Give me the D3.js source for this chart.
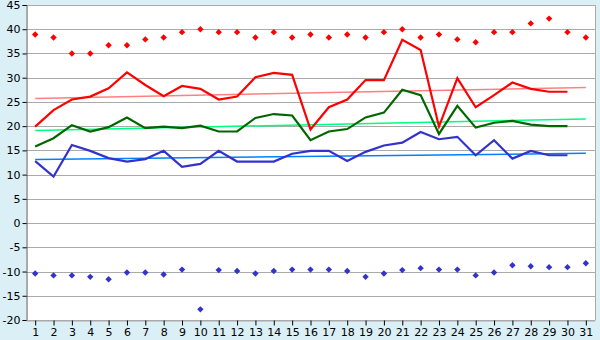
<!DOCTYPE html>
<html>
<head>
<meta charset="utf-8">
<script src="https://cdn.jsdelivr.net/npm/d3@7"></script>
<style>
body { margin: 0; background: #daeff6; }
svg { display: block; }
.tick text { font-family: "DejaVu Sans", sans-serif; font-size: 11px; fill: #000; }
</style>
</head>
<body>
<script>
// day of month
var days = d3.range(1, 32);

// daily values (day 31 has no reading yet)
var maxTemp = [19.9, 23.3, 25.5, 26.1, 27.8, 31.1, 28.5, 26.2, 28.3, 27.7,
	25.5, 26.1, 30.1, 31.0, 30.6, 19.3, 23.9, 25.5, 29.5, 29.5,
	37.8, 35.7, 19.9, 29.9, 23.9, 26.4, 29.0, 27.7, 27.1, 27.1];
var meanTemp = [15.8, 17.5, 20.2, 18.9, 19.8, 21.8, 19.6, 19.9, 19.6, 20.1,
	18.9, 18.9, 21.7, 22.5, 22.2, 17.1, 18.9, 19.4, 21.8, 22.8,
	27.5, 26.4, 18.4, 24.2, 19.7, 20.7, 21.1, 20.3, 20.0, 20.0];
var minTemp = [12.8, 9.6, 16.1, 14.9, 13.4, 12.7, 13.2, 14.9, 11.6, 12.2,
	14.9, 12.7, 12.7, 12.7, 14.3, 14.9, 14.9, 12.8, 14.7, 16.0,
	16.6, 18.8, 17.3, 17.8, 14.0, 17.1, 13.3, 14.9, 14.0, 14.0];

// record values for each day
var recordHigh = [38.9, 38.3, 35.0, 35.0, 36.7, 36.7, 37.9, 38.3, 39.4, 40.0,
	39.4, 39.4, 38.3, 39.4, 38.3, 38.9, 38.3, 38.9, 38.3, 39.4,
	40.0, 38.3, 38.9, 37.9, 37.3, 39.4, 39.4, 41.2, 42.2, 39.4, 38.3];
var recordLow = [-10.4, -10.8, -10.8, -11.1, -11.6, -10.2, -10.2, -10.6, -9.6, -17.8,
	-9.7, -9.9, -10.4, -9.9, -9.6, -9.6, -9.6, -9.9, -11.1, -10.4,
	-9.7, -9.3, -9.6, -9.6, -10.8, -10.2, -8.7, -8.9, -9.1, -9.1, -8.3];

// trend lines, value at day 1 and day 31
var trendMax = [25.7, 28.0];
var trendMean = [19.1, 21.5];
var trendMin = [13.1, 14.4];

var yTicks = d3.range(-20, 46, 5);

var width = 600, height = 340;
var margin = {top: 5, right: 5, bottom: 20, left: 26};
var w = width - margin.left - margin.right;
var h = height - margin.top - margin.bottom;

var svg = d3.select("body").append("svg")
	.attr("width", width)
	.attr("height", height);

var g = svg.append("g")
	.attr("transform", "translate(" + margin.left + "," + margin.top + ")");

var x = d3.scalePoint()
	.domain(days)
	.range([0, w])
	.padding(0.5);

var y = d3.scaleLinear()
	.domain([-20, 45])
	.range([h, 0]);

g.append("rect")
	.attr("width", w)
	.attr("height", h)
	.attr("fill", "#fff");

// grid
g.selectAll(".grid")
	.data(yTicks)
	.enter().append("line")
	.attr("x1", 0)
	.attr("x2", w)
	.attr("y1", (d) => { return Math.round(y(d)) + 0.5; })
	.attr("y2", (d) => { return Math.round(y(d)) + 0.5; })
	.attr("stroke", "#aaa");

g.append("line")
	.attr("x1", w + 0.5).attr("x2", w + 0.5)
	.attr("y1", 0).attr("y2", h)
	.attr("stroke", "#aaa");

// plain hyphen for negatives, like the original
var leftAxis = d3.axisLeft(y).tickValues(yTicks).tickSize(4).tickPadding(2)
	.tickFormat((d) => { return String(d); });
g.append("g")
	.attr("transform", "translate(0.5,0)")
	.call(leftAxis)
	.call((a) => { a.select(".domain").attr("stroke", "#555"); });

var bottomAxis = d3.axisBottom(x).tickSize(5).tickPadding(3).tickSizeOuter(0);
g.append("g")
	.attr("transform", "translate(0," + (h + 0.5) + ")")
	.call(bottomAxis)
	.call((a) => { a.select(".domain").attr("stroke", "#aaa"); });

// trend lines
var trends = [
	{v: trendMax, c: "#ff8080"},
	{v: trendMean, c: "#00ff80"},
	{v: trendMin, c: "#0080ff"}
];
g.selectAll(".trend")
	.data(trends)
	.enter().append("line")
	.attr("x1", x(days[0]))
	.attr("x2", x(days[days.length - 1]))
	.attr("y1", (d) => { return y(d.v[0]); })
	.attr("y2", (d) => { return y(d.v[1]); })
	.attr("stroke", (d) => { return d.c; })
	.attr("stroke-width", 1.5);

// daily lines
var line = d3.line()
	.x((d, i) => { return x(days[i]); })
	.y((d) => { return y(d); });

var series = [
	{v: minTemp, c: "#3333cc"},
	{v: meanTemp, c: "#006600"},
	{v: maxTemp, c: "#ff0000"}
];
g.selectAll(".series")
	.data(series)
	.enter().append("path")
	.attr("d", (d) => { return line(d.v); })
	.attr("fill", "none")
	.attr("stroke", (d) => { return d.c; })
	.attr("stroke-width", 2.2);

// record markers
var diamond = d3.symbol().type(d3.symbolDiamond2).size(26);
g.selectAll(".hi")
	.data(recordHigh)
	.enter().append("path")
	.attr("d", diamond)
	.attr("transform", (d, i) => { return "translate(" + x(days[i]) + "," + y(d) + ")"; })
	.attr("fill", "#ff0000");
g.selectAll(".lo")
	.data(recordLow)
	.enter().append("path")
	.attr("d", diamond)
	.attr("transform", (d, i) => { return "translate(" + x(days[i]) + "," + y(d) + ")"; })
	.attr("fill", "#3333cc");
</script>
</body>
</html>
